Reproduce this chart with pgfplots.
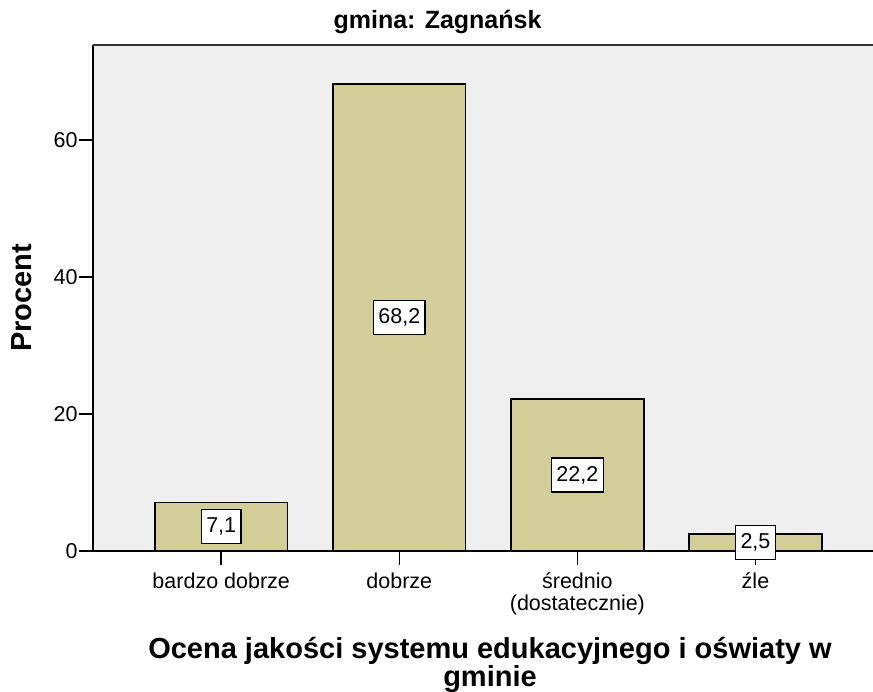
\documentclass[border=0pt]{standalone}
\usepackage{pgfplots}
\pgfplotsset{compat=1.18}
\usepackage{fontspec}
\setmainfont{Liberation Sans}
\definecolor{bgcol}{RGB}{239,239,239}
\definecolor{barcol}{RGB}{211,206,151}
\begin{document}
\begin{tikzpicture}[x=1pt,y=1pt]
\useasboundingbox (0,0) rectangle (873,691);
\begin{axis}[
  at={(93pt,140pt)}, anchor=south west,
  width=780pt, height=506pt, scale only axis,
  xmin=-0.72, xmax=3.66, ymin=0, ymax=73.9,
  axis x line*=bottom, axis y line*=left,
  axis line style={-, line width=1.5pt, black},
  axis background/.style={fill=bgcol},
  xtick={0,1,2,3},
  xticklabels={bardzo dobrze, dobrze, {średnio\\(dostatecznie)}, źle},
  ytick={0,20,40,60},
  tick align=outside, major tick length=14pt,
  tick style={line width=1.6pt, black},
  xticklabel style={font=\fontsize{21.5}{22}\selectfont, align=center, anchor=north, yshift=-4pt},
  yticklabel style={font=\fontsize{21.5}{22}\selectfont, anchor=east, xshift=2pt},
  /pgf/number format/assume math mode=true,
  clip=false,
]
\addplot[ybar, bar width=0.746, fill=barcol, draw=black, line width=1.5pt]
  coordinates {(0,7.1) (1,68.2) (2,22.2) (3,2.5)};
\addplot[draw=none, mark=none, nodes near coords, point meta=explicit symbolic,
  nodes near coords align=center,
  every node near coord/.style={draw=black, fill=white, line width=1.5pt, anchor=center,
    font=\fontsize{21.5}{22}\selectfont, inner xsep=5pt, inner ysep=0pt, minimum height=34pt}]
  coordinates {(0,3.55) [{7,1}] (1,34.1) [{68,2}] (2,11.1) [{22,2}] (3,1.25) [{2,5}]};
\draw[line width=1.5pt, black!80] (rel axis cs:0,1) -- (rel axis cs:1,1);
\end{axis}
\node[font=\bfseries\fontsize{25}{27}\selectfont] at (437.5,669) {gmina: Zagnańsk};
\node[font=\bfseries\fontsize{29}{30}\selectfont, rotate=90] at (22,393) {Procent};
\node[font=\bfseries\fontsize{29}{25}\selectfont, align=center, anchor=north, inner sep=0pt] at (490,54) {Ocena jakości systemu edukacyjnego i oświaty w\\gminie};
\end{tikzpicture}
\end{document}
